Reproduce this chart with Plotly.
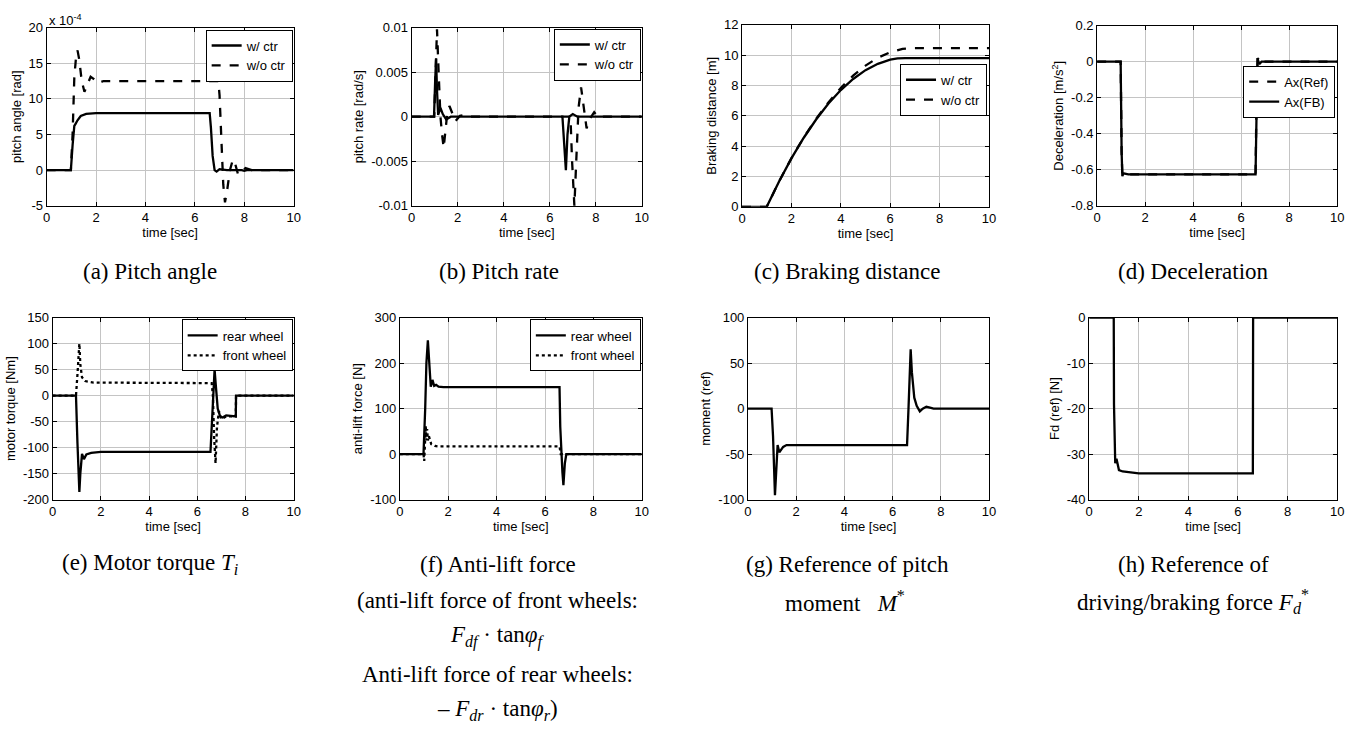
import plotly.graph_objects as go

# ---------------- data ----------------
# (a) pitch angle, units of 1e-4 rad
a_t_ctr = [0, 0.98, 1.05, 1.12, 1.17, 1.25, 1.38, 1.6, 2.0, 6.6, 6.65, 6.72, 6.8, 6.88, 7.0, 7.3, 7.9, 8.0, 8.1, 10]
a_ctr = [0, 0, 3.5, 6.2, 6.5, 7.0, 7.6, 7.9, 8.0, 8.0, 6.0, 2.0, 0, -0.2, 0.15, 0, 0, -0.1, 0, 0]
a_t_woc = [0, 0.98, 1.05, 1.12, 1.2, 1.25, 1.32, 1.42, 1.53, 1.65, 1.78, 1.9, 2.08, 2.3, 6.95, 7.0, 7.08,
           7.15, 7.22, 7.3, 7.42, 7.54, 7.64, 7.75, 7.9, 8.05, 8.3, 10]
a_woc = [0, 0, 5, 13, 16.3, 16.8, 15.5, 12.5, 11.0, 12.0, 13.1, 12.8, 12.2, 12.5, 12.5, 10.5, 4,
         -2, -4.5, -3, 0, 1.5, 0.8, -0.6, -0.3, 0.3, 0, 0]

# (b) pitch rate [rad/s]
b_t_ctr = [0, 0.97, 1.02, 1.06, 1.1, 1.15, 1.25, 1.35, 1.5, 1.7, 6.55, 6.62, 6.7, 6.77, 6.85, 7.0, 7.2, 10]
b_ctr = [0, 0, 0.004, 0.0065, 0.003, 0.0002, 0.001, 0.0003, -0.0003, 0, 0, -0.003, -0.006, -0.002, 0,
         0.0003, 0, 0]
b_t_woc = [0, 0.98, 1.04, 1.1, 1.17, 1.25, 1.32, 1.39, 1.47, 1.55, 1.64, 1.75, 1.9, 2.1, 2.3, 2.45,
           6.9, 6.97, 7.07, 7.15, 7.25, 7.36, 7.48, 7.6, 7.75, 7.93, 8.08, 8.2, 8.35, 10]
b_woc = [0, 0, 0.005, 0.0098, 0.005, 0.0, -0.002, -0.0035, -0.0015, 0.0005, 0.0012, 0.0005, -0.0005,
         0.0001, 0.0002, 0, 0, -0.005, -0.01, -0.005, 0.001, 0.0033, 0.001, -0.0013, -0.0002, 0.0005,
         0, -0.0001, 0, 0]

# (c) braking distance [m]
c_t_ctr = [0, 1.0, 1.5, 2.0, 2.5, 3.0, 3.5, 4.0, 4.5, 5.0, 5.5, 6.0, 6.3, 6.6, 10]
c_ctr = [0, 0, 1.67, 3.19, 4.55, 5.75, 6.8, 7.69, 8.42, 9.0, 9.42, 9.69, 9.78, 9.8, 9.8]
c_t_woc = [0, 1.0, 1.5, 2.0, 2.5, 3.0, 3.5, 4.0, 4.5, 5.0, 5.5, 6.0, 6.5, 7.0, 10]
c_woc = [0, 0, 1.67, 3.2, 4.57, 5.8, 6.88, 7.83, 8.64, 9.3, 9.82, 10.18, 10.4, 10.45, 10.45]

# (d) deceleration [m/s^2]
d_t_ref = [0, 0.98, 1.02, 1.05, 1.1, 6.6, 6.65, 6.7, 6.75, 6.8, 10]
d_ref = [0, 0, -0.5, -0.625, -0.625, -0.625, -0.1, 0.02, -0.005, 0, 0]
d_t_fb = [0, 0.98, 1.02, 1.05, 1.1, 1.3, 6.6, 6.64, 6.68, 6.72, 6.78, 6.85, 10]
d_fb = [0, 0, -0.5, -0.635, -0.62, -0.625, -0.625, -0.2, 0.02, 0.0, -0.01, 0, 0]

# (e) motor torque [Nm]
e_t_rear = [0, 0.97, 1.03, 1.08, 1.11, 1.15, 1.22, 1.3, 1.4, 1.6, 2.0, 6.55, 6.62, 6.68, 6.72, 6.77,
            6.85, 6.95, 7.05, 7.2, 7.6, 7.61, 10]
e_rear = [0, 0, -90, -170, -185, -150, -112, -122, -113, -110, -108, -108, -40, 30, 50, 20, -25, -40,
          -42, -38, -40, 0, 0]
e_t_front = [0, 0.97, 1.03, 1.08, 1.11, 1.15, 1.22, 1.35, 1.7, 6.6, 6.65, 6.7, 6.76, 6.82, 6.9, 7.0,
             7.2, 7.6, 7.61, 10]
e_front = [0, 0, 40, 90, 100, 60, 35, 28, 25, 24, 0, -80, -130, -60, -30, -45, -40, -40, 0, 0]

# (f) anti-lift force [N]
f_t_rear = [0, 0.98, 1.05, 1.1, 1.16, 1.22, 1.28, 1.35, 1.42, 1.5, 1.6, 1.8, 6.6, 6.63, 6.67, 6.72,
            6.76, 6.82, 6.88, 10]
f_rear = [0, 0, 100, 200, 250, 190, 148, 163, 150, 152, 148, 147, 147, 60, 0, -40, -68, -20, 0, 0]
f_t_front = [0, 0.98, 1.01, 1.04, 1.07, 1.1, 1.13, 1.16, 1.2, 1.3, 1.45, 1.6, 6.6, 6.65, 10]
f_front = [0, 0, -15, 20, 62, 30, 55, 30, 40, 22, 18, 17, 17, 0, 0]

# (g) moment reference
g_t = [0, 0.98, 1.04, 1.08, 1.12, 1.17, 1.23, 1.3, 1.38, 1.46, 1.6, 6.6, 6.66, 6.71, 6.75, 6.8, 6.9,
       7.0, 7.13, 7.25, 7.4, 7.55, 7.7, 10]
g_m = [0, 0, -30, -75, -95, -70, -40, -48, -45, -42, -40, -40, 0, 45, 65, 40, 12, 3, -3, 0, 2, 1, 0, 0]

# (h) Fd reference [N]
h_t = [0, 0.99, 1.0, 1.02, 1.05, 1.1, 1.15, 1.2, 1.35, 1.6, 2.0, 6.6, 6.61, 10]
h_f = [0, 0, -19, -31, -32, -31, -32.5, -33.5, -33.8, -34, -34.2, -34.2, 0, 0]

# tick labels
x_ticks = [0, 2, 4, 6, 8, 10]
a_ticks = [-5, 0, 5, 10, 15, 20]
b_ticks = [-0.01, -0.005, 0, 0.005, 0.01]
b_labels = ["-0.01", "-0.005", "0", "0.005", "0.01"]
c_ticks = [0, 2, 4, 6, 8, 10, 12]
d_ticks = [-0.8, -0.6, -0.4, -0.2, 0, 0.2]
d_labels = ["-0.8", "-0.6", "-0.4", "-0.2", "0", "0.2"]
e_ticks = [-200, -150, -100, -50, 0, 50, 100, 150]
f_ticks = [-100, 0, 100, 200, 300]
g_ticks = [-100, -50, 0, 50, 100]
h_ticks = [-40, -30, -20, -10, 0]

# ---------------- layout helpers ----------------
W, H = 1366, 733
def px(x):
    return x / W
def py(y):
    return 1 - y / H

SANS = "Liberation Sans, Arial, sans-serif"
SERIF = "Liberation Serif, Times New Roman, serif"
LW = 2.3
FS = 13      # tick / axis-title / legend font size
CFS = 23     # caption font size

panels = [
    # (x0, x1, ytop, ybottom, yrange, yticks, ylabels, ytitle)
    (43, 292, 21, 203, [-5, 20], a_ticks, [str(v) for v in a_ticks], "pitch angle [rad]"),
    (411, 643, 21, 203, [-0.01, 0.01], b_ticks, b_labels, "pitch rate [rad/s]"),
    (744, 993, 18, 204, [0, 12], c_ticks, [str(v) for v in c_ticks], "Braking distance [m]"),
    (1102, 1344, 19, 203, [-0.8, 0.2], d_ticks, d_labels, "Deceleration [m/s<sup>2</sup>]"),
    (49, 292, 317, 503, [-200, 150], e_ticks, [str(v) for v in e_ticks], "motor torque [Nm]"),
    (399, 643, 317, 503, [-100, 300], f_ticks, [str(v) for v in f_ticks], "anti-lift force [N]"),
    (750, 993, 317, 503, [-100, 100], g_ticks, [str(v) for v in g_ticks], "moment (ref)"),
    (1094, 1344, 317, 503, [-40, 0], h_ticks, [str(v) for v in h_ticks], "Fd (ref) [N]"),
]

fig = go.Figure()
layout = {}
for i, (x0, x1, yt, yb, yr, yt_vals, yt_text, ytitle) in enumerate(panels):
    n = "" if i == 0 else str(i + 1)
    common = dict(showline=True, linecolor="black", linewidth=1, mirror="ticks",
                  ticks="inside", ticklen=4, tickcolor="black", tickwidth=1,
                  showgrid=True, gridcolor="#c4c4c4", gridwidth=1, zeroline=False,
                  tickfont=dict(family=SANS, size=FS, color="black"))
    layout["xaxis" + n] = dict(domain=[px(x0), px(x1)], anchor="y" + n, range=[0, 10],
                               tickvals=x_ticks, ticktext=[str(v) for v in x_ticks],
                               title=dict(text="time [sec]", font=dict(family=SANS, size=FS, color="black"),
                                          standoff=0),
                               **common)
    layout["yaxis" + n] = dict(domain=[py(yb), py(yt)], anchor="x" + n, range=yr,
                               tickvals=yt_vals, ticktext=yt_text,
                               title=dict(text=ytitle, font=dict(family=SANS, size=FS, color="black"),
                                          standoff=4),
                               **common)

def add(xs, ys, idx, name, dash, legend):
    n = "" if idx == 0 else str(idx + 1)
    fig.add_trace(go.Scatter(x=xs, y=ys, mode="lines", name=name,
                             line=dict(color="black", width=LW, dash=dash),
                             xaxis="x" + n, yaxis="y" + n,
                             legend=legend, showlegend=legend is not None))

add(a_t_ctr, a_ctr, 0, "w/ ctr", "solid", "legend")
add(a_t_woc, a_woc, 0, "w/o ctr", "dash", "legend")
add(b_t_ctr, b_ctr, 1, "w/ ctr", "solid", "legend2")
add(b_t_woc, b_woc, 1, "w/o ctr", "dash", "legend2")
add(c_t_ctr, c_ctr, 2, "w/ ctr", "solid", "legend3")
add(c_t_woc, c_woc, 2, "w/o ctr", "dash", "legend3")
add(d_t_ref, d_ref, 3, "Ax(Ref)", "dash", "legend4")
add(d_t_fb, d_fb, 3, "Ax(FB)", "solid", "legend4")
add(e_t_rear, e_rear, 4, "rear wheel", "solid", "legend5")
add(e_t_front, e_front, 4, "front wheel", "dot", "legend5")
add(f_t_rear, f_rear, 5, "rear wheel", "solid", "legend6")
add(f_t_front, f_front, 5, "front wheel", "dot", "legend6")
add(g_t, g_m, 6, "moment", "solid", None)
add(h_t, h_f, 7, "Fd", "solid", None)

def leg(xr, yt):
    return dict(x=px(xr), y=py(yt), xanchor="right", yanchor="top", bgcolor="white",
                bordercolor="black", borderwidth=1, font=dict(family=SANS, size=FS, color="black"),
                tracegroupgap=0, itemwidth=30, traceorder="normal")

layout["legend"] = leg(291, 23)
layout["legend2"] = leg(642, 22)
layout["legend3"] = leg(991, 58)
layout["legend4"] = leg(1342, 60)
layout["legend5"] = leg(291, 319)
layout["legend6"] = leg(642, 319)

ann = []
def cap(x, y, text, size=CFS):
    ann.append(dict(x=px(x), y=py(y), xref="paper", yref="paper", text=text, showarrow=False,
                    xanchor="center", yanchor="middle",
                    font=dict(family=SERIF, size=size, color="black")))

cap(147, 270, "(a) Pitch angle")
cap(499, 270, "(b) Pitch rate")
cap(850, 270, "(c) Braking distance")
cap(1199, 270, "(d) Deceleration")
cap(147, 569, "(e) Motor torque <i>T<sub>i</sub></i>")
cap(498, 569, "(f) Anti-lift force")
cap(498, 606, "(anti-lift force of front wheels:")
cap(498, 643, "<i>F<sub>df</sub></i> · tan<i>φ<sub>f</sub></i>")
cap(498, 681, "Anti-lift force of rear wheels:")
cap(498, 718, "– <i>F<sub>dr</sub></i> · tan<i>φ<sub>r</sub></i>)")
cap(850, 569, "(g) Reference of pitch")
cap(848, 607, "moment   <i>M</i><sup>*</sup>")
cap(1199, 569, "(h) Reference of")
cap(1199, 607, "driving/braking force <i>F<sub>d</sub></i><sup>*</sup>")

ann.append(dict(x=px(43), y=py(13), xref="paper", yref="paper", text="x 10<sup>-4</sup>",
                showarrow=False, xanchor="left", yanchor="middle",
                font=dict(family=SANS, size=FS, color="black")))

fig.update_layout(width=W, height=H, margin=dict(l=0, r=0, t=0, b=0),
                  paper_bgcolor="white", plot_bgcolor="white",
                  annotations=ann, **layout)

fig.write_html("out.html", config={"displayModeBar": False},
               post_script="document.body.style.margin='0';document.body.style.padding='0';")
